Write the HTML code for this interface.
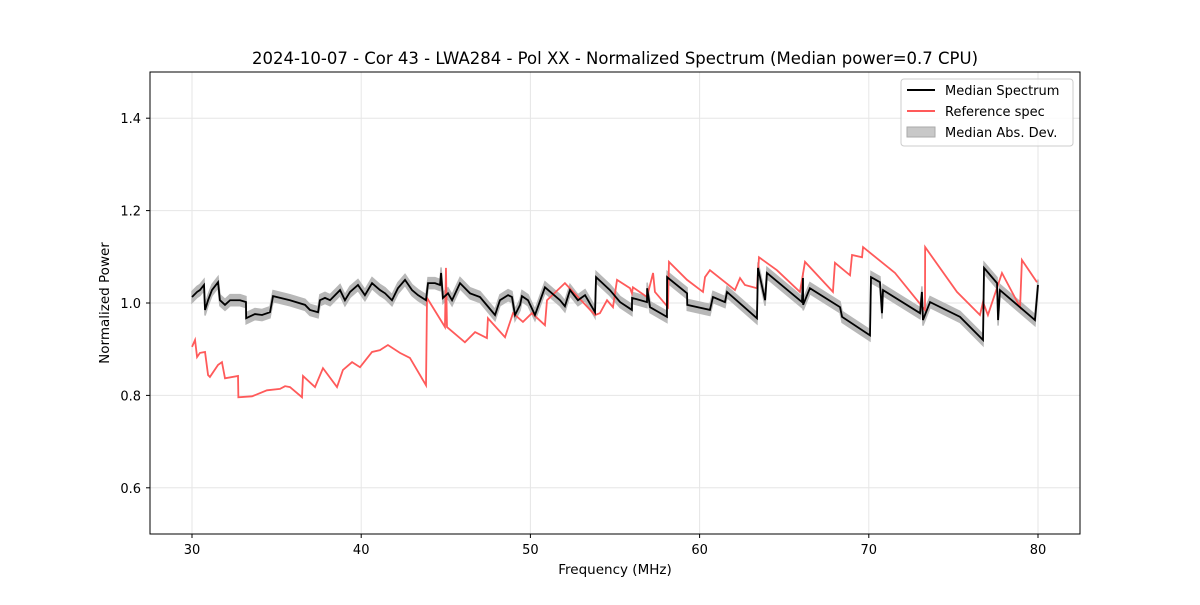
<!DOCTYPE html>
<html><head><meta charset="utf-8"><style>
body{margin:0;background:#fff;}
svg text{font-family:"DejaVu Sans","Liberation Sans",sans-serif;fill:#000;}
</style></head><body>
<svg id="chart" width="1200" height="600" xmlns="http://www.w3.org/2000/svg">
<rect width="1200" height="600" fill="#fff"/>
<text x="615" y="64" font-size="16.5" text-anchor="middle">2024-10-07 - Cor 43 - LWA284 - Pol XX - Normalized Spectrum (Median power=0.7 CPU)</text>
<g id="grid"></g><g id="band"></g><g id="lines"></g>
<rect x="150" y="72" width="930" height="462" fill="none" stroke="#000" stroke-width="1"/>
<g id="ticks"></g>
<text x="615" y="574" font-size="13.5" text-anchor="middle">Frequency (MHz)</text>
<text transform="translate(109,303) rotate(-90)" font-size="13.5" text-anchor="middle">Normalized Power</text>
<g>
<rect x="901" y="79" width="172" height="67" fill="#fff" fill-opacity="0.8" stroke="#ccc" rx="3"/>
<line x1="907" y1="90" x2="935" y2="90" stroke="#000" stroke-width="2"/>
<text x="945" y="95" font-size="13">Median Spectrum</text>
<line x1="907" y1="111" x2="935" y2="111" stroke="#ff5a5a" stroke-width="2"/>
<text x="945" y="116" font-size="13">Reference spec</text>
<rect x="907" y="127" width="28" height="10" fill="#c8c8c8" stroke="#aaa"/>
<text x="945" y="137" font-size="13">Median Abs. Dev.</text>
</g>
</svg>
<script>
const xTicks=[30,40,50,60,70,80];
const yTicks=[0.6,0.8,1.0,1.2,1.4];
const medFreq=[30.00,30.30,30.47,30.71,30.77,30.95,31.18,31.54,31.65,31.95,32.25,32.84,33.19,33.20,33.72,34.14,34.61,34.79,35.79,36.68,36.97,37.45,37.56,37.86,38.16,38.75,39.04,39.34,39.81,40.22,40.64,41.11,41.41,41.82,42.17,42.59,43.00,43.36,43.83,43.95,44.36,44.66,44.72,44.83,45.13,45.37,45.84,46.43,47.02,47.91,48.20,48.68,48.91,49.09,49.39,49.50,49.86,50.27,50.86,51.75,52.04,52.34,52.81,53.23,53.82,53.88,54.70,55.30,56.00,56.01,56.89,56.90,57.07,58.07,58.08,59.26,59.27,60.61,60.79,61.50,61.62,63.39,63.45,63.87,63.98,66.05,66.11,66.12,66.52,68.30,68.42,70.07,70.13,70.66,70.78,70.84,73.03,73.14,73.20,73.62,75.39,76.75,76.81,77.58,77.64,77.75,79.82,80.00];
const medVal=[1.013,1.024,1.028,1.039,0.985,1.006,1.028,1.045,1.006,0.996,1.006,1.006,1.002,0.967,0.976,0.974,0.980,1.015,1.006,0.996,0.985,0.980,1.006,1.011,1.006,1.028,1.006,1.024,1.039,1.017,1.043,1.028,1.021,1.006,1.032,1.050,1.028,1.017,1.006,1.043,1.043,1.039,1.065,1.011,1.021,1.006,1.043,1.021,1.013,0.974,1.006,1.017,1.013,0.974,0.996,1.015,1.006,0.974,1.034,1.006,0.993,1.028,1.006,1.017,0.980,1.056,1.028,1.002,0.985,1.011,1.002,1.032,0.991,0.970,1.056,1.021,0.996,0.985,1.013,1.002,1.024,0.967,1.076,1.006,1.065,1.002,1.054,0.996,1.032,0.991,0.970,0.930,1.056,1.045,0.978,1.028,0.978,1.024,0.963,1.002,0.970,0.920,1.076,1.043,0.963,1.028,0.963,1.039];
const madVal=0.012;
const refFreq=[30.00,30.18,30.30,30.47,30.77,30.95,31.06,31.54,31.77,31.95,32.72,32.74,33.55,34.43,35.20,35.50,35.79,36.50,36.56,37.27,37.74,38.57,38.92,39.46,39.93,40.64,41.11,41.58,42.29,42.88,43.83,43.89,44.95,45.01,45.07,46.13,46.73,47.43,47.49,48.50,48.97,49.56,50.09,50.86,50.98,52.04,53.82,54.11,54.53,54.88,55.12,55.89,56.00,56.06,56.89,57.25,57.36,58.13,58.19,59.26,60.20,60.32,60.61,62.09,62.39,62.68,63.39,63.51,64.57,65.93,66.23,67.88,68.00,68.89,69.01,69.60,69.66,71.55,73.32,73.33,75.21,76.57,76.75,77.04,77.87,78.94,79.05,79.94];
const refVal=[0.905,0.920,0.883,0.892,0.894,0.844,0.840,0.866,0.872,0.837,0.842,0.796,0.798,0.811,0.814,0.820,0.818,0.796,0.842,0.818,0.859,0.818,0.855,0.872,0.861,0.894,0.898,0.909,0.892,0.881,0.822,1.011,0.948,1.076,0.948,0.915,0.937,0.924,0.967,0.926,0.978,0.959,0.978,0.952,1.006,1.043,0.974,0.978,1.006,0.991,1.050,1.032,1.021,1.034,1.013,1.065,1.024,0.991,1.089,1.050,1.024,1.056,1.071,1.028,1.054,1.039,1.032,1.099,1.071,1.024,1.089,1.024,1.087,1.060,1.104,1.099,1.121,1.065,0.985,1.121,1.024,0.974,1.002,0.974,1.065,0.991,1.093,1.045];

const NS='http://www.w3.org/2000/svg';
const X=f=>192+(f-30)*16.92;
const Y=v=>534-(v-0.5)*462;
function mk(tag,parent){const e=document.createElementNS(NS,tag);document.getElementById(parent).appendChild(e);return e;}
xTicks.forEach(t=>{
  const g=mk('line','grid');g.setAttribute('x1',X(t));g.setAttribute('x2',X(t));g.setAttribute('y1',72);g.setAttribute('y2',534);g.setAttribute('stroke','#e6e6e6');
  
  
  const k=mk('line','ticks');k.setAttribute('x1',X(t));k.setAttribute('x2',X(t));k.setAttribute('y1',534);k.setAttribute('y2',538);k.setAttribute('stroke','#000');
  
  
  const l=mk('text','ticks');l.textContent=t;l.setAttribute('x',X(t));l.setAttribute('y',554);l.setAttribute('font-size','13');l.setAttribute('text-anchor','middle');
  
  
});
yTicks.forEach(t=>{
  const g=mk('line','grid');g.setAttribute('x1',150);g.setAttribute('x2',1080);g.setAttribute('y1',Y(t));g.setAttribute('y2',Y(t));g.setAttribute('stroke','#e6e6e6');
  
  
  const k=mk('line','ticks');k.setAttribute('x1',146);k.setAttribute('x2',150);k.setAttribute('y1',Y(t));k.setAttribute('y2',Y(t));k.setAttribute('stroke','#000');
  
  
  const l=mk('text','ticks');l.textContent=t.toFixed(1);l.setAttribute('x',141);l.setAttribute('y',Y(t)+5);l.setAttribute('font-size','13');l.setAttribute('text-anchor','end');
  
  
});
let up=medFreq.map((f,i)=>X(f)+','+Y(medVal[i]+madVal));
let dn=medFreq.map((f,i)=>X(f)+','+Y(medVal[i]-madVal)).reverse();
const b=mk('polygon','band');b.setAttribute('points',up.concat(dn).join(' '));b.setAttribute('fill','#b8b8b8');b.setAttribute('stroke','#b8b8b8');b.setAttribute('stroke-width','1.5');


const r=mk('polyline','lines');r.setAttribute('points',refFreq.map((f,i)=>X(f)+','+Y(refVal[i])).join(' '));r.setAttribute('fill','none');r.setAttribute('stroke','#ff5a5a');r.setAttribute('stroke-width','1.8');


const m=mk('polyline','lines');m.setAttribute('points',medFreq.map((f,i)=>X(f)+','+Y(medVal[i])).join(' '));m.setAttribute('fill','none');m.setAttribute('stroke','#000');m.setAttribute('stroke-width','1.8');


</script>
</body></html>
